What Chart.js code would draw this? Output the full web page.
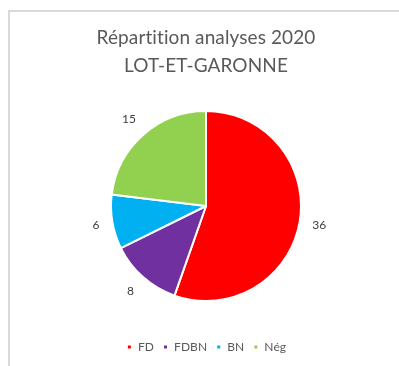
<!DOCTYPE html>
<html>
<head>
<meta charset="utf-8">
<script src="https://cdn.jsdelivr.net/npm/chart.js@4.4.1/dist/chart.umd.min.js"></script>
<style>
    html, body { margin: 0; padding: 0; background: #fff; }
    #wrap { position: relative; width: 399px; height: 366px; }
</style>
</head>
<body>
<div id="wrap"><canvas id="pieChart" width="399" height="366"></canvas></div>
<script>
const titleLines = ["Répartition analyses 2020", "LOT-ET-GARONNE"];
const categories = ["FD", "FDBN", "BN", "Nég"];
const counts = [36, 8, 6, 15];
const sliceColors = ["#FF0000", "#7030A0", "#00B0F0", "#92D050"];

const FONT = "Lato, 'Open Sans', sans-serif";

// grey frame around the chart object; also turns off Lato's "ti" ligature
const framePlugin = {
    id: "frame",
    beforeDraw(chart) {
        const ctx = chart.ctx;
        ctx.letterSpacing = "0.1px";
        ctx.save();
        ctx.strokeStyle = "#d9d9d9";
        ctx.lineWidth = 2;
        ctx.strokeRect(9, 11, 500, 500);
        ctx.restore();
    }
};

// value labels just outside each slice
const outsideLabels = {
    id: "outsideLabels",
    afterDatasetsDraw(chart) {
        const ctx = chart.ctx;
        const meta = chart.getDatasetMeta(0);
        ctx.save();
        ctx.font = "12px " + FONT;
        ctx.fillStyle = "#404040";
        ctx.textAlign = "center";
        ctx.textBaseline = "middle";
        meta.data.forEach((arc, i) => {
            const p = arc.getProps(["x", "y", "startAngle", "endAngle", "outerRadius"], true);
            const mid = (p.startAngle + p.endAngle) / 2;
            const txt = String(chart.data.datasets[0].data[i]);
            const w = ctx.measureText(txt).width;
            const halfExt = Math.abs(Math.cos(mid)) * w / 2 + Math.abs(Math.sin(mid)) * 6;
            const r = p.outerRadius + 12 + halfExt;
            ctx.fillText(txt, p.x + Math.cos(mid) * r, p.y + Math.sin(mid) * r);
        });
        ctx.restore();
    }
};

const ctx = document.getElementById("pieChart").getContext("2d");

const chart = new Chart(ctx, {
    type: "pie",
    data: {
        labels: categories,
        datasets: [{
            data: counts,
            backgroundColor: sliceColors,
            borderColor: "#ffffff",
            borderWidth: 2,
            radius: 95
        }]
    },
    options: {
        responsive: false,
        animation: false,
        layout: { padding: { left: 20, right: 7, top: 0, bottom: 3 } },
        plugins: {
            tooltip: { enabled: false },
            title: {
                display: true,
                text: titleLines,
                color: "#595959",
                font: { family: FONT, size: 19, weight: "normal", lineHeight: "28px" },
                padding: { top: 24, bottom: 0 }
            },
            legend: {
                position: "bottom",
                labels: {
                    boxWidth: 5,
                    boxHeight: 5,
                    color: "#595959",
                    font: { family: FONT, size: 12 },
                    padding: 9
                }
            }
        }
    },
    plugins: [framePlugin, outsideLabels]
});
</script>
</body>
</html>
